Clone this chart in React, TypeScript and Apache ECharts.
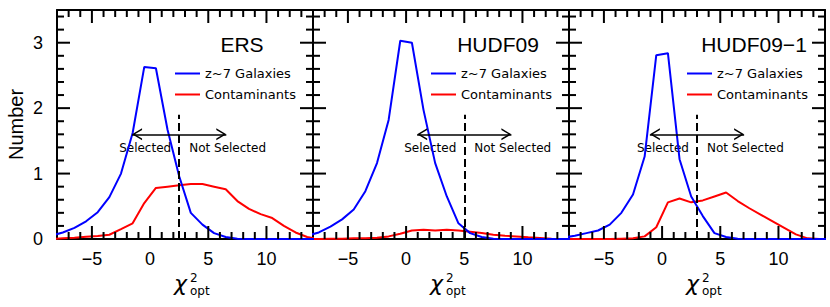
import React, { useEffect, useRef } from 'react';
import * as echarts from 'echarts';

const panelNames = ['ERS', 'HUDF09', 'HUDF09−1'];
const binCenters = [-8.5, -7.5, -6.5, -5.5, -4.5, -3.5, -2.5, -1.5, -0.5, 0.5, 1.5, 2.5, 3.5, 4.5, 5.5, 6.5, 7.5, 8.5, 9.5, 10.5, 11.5, 12.5, 13.5, 14.5];
const ersGalaxies = [0.05, 0.1, 0.17, 0.27, 0.41, 0.64, 1.0, 1.62, 2.63, 2.61, 1.67, 0.96, 0.4, 0.22, 0.09, 0.03, 0.005, 0, 0, 0, 0, 0, 0, 0];
const ersContaminants = [0, 0.01, 0.02, 0.035, 0.045, 0.065, 0.15, 0.24, 0.55, 0.78, 0.8, 0.82, 0.84, 0.84, 0.8, 0.76, 0.58, 0.46, 0.38, 0.32, 0.2, 0.1, 0.03, 0];
const hudfGalaxies = [0.05, 0.1, 0.19, 0.3, 0.45, 0.73, 1.16, 1.82, 3.03, 3.0, 1.97, 1.16, 0.65, 0.24, 0.09, 0.03, 0.005, 0, 0, 0, 0, 0, 0, 0];
const hudfContaminants = [0, 0, 0.005, 0.005, 0.01, 0.01, 0.02, 0.04, 0.08, 0.13, 0.14, 0.13, 0.14, 0.13, 0.11, 0.09, 0.065, 0.05, 0.04, 0.025, 0.015, 0.005, 0, 0];
const hudf1Galaxies = [0.02, 0.05, 0.09, 0.13, 0.22, 0.4, 0.68, 1.26, 2.81, 2.84, 1.22, 0.65, 0.35, 0.09, 0.03, 0.005, 0, 0, 0, 0, 0, 0, 0, 0];
const hudf1Contaminants = [0, 0, 0, 0, 0, 0.005, 0.01, 0.04, 0.18, 0.56, 0.62, 0.56, 0.59, 0.65, 0.71, 0.58, 0.47, 0.37, 0.27, 0.17, 0.07, 0.01, 0, 0];
const galaxySeries = [ersGalaxies, hudfGalaxies, hudf1Galaxies];
const contaminantSeries = [ersContaminants, hudfContaminants, hudf1Contaminants];
const selectionCuts = [2.5, 5, 3];
const cutTop = 1.9;
const arrowLevel = 1.6;
const arrowHalfLength = 4.05;
const xTickLabels = ['-8', '-7', '-6', '-5', '-4', '-3', '-2', '-1', '0', '1', '2', '3', '4', '5', '6', '7', '8', '9', '10', '11', '12', '13', '14'];
const xTickValues = [-7, -6, -5, -4, -3, -2, -1, 0, 1, 2, 3, 4, 5, 6, 7, 8, 9, 10, 11, 12, 13];
const yTickValues = [0.2, 0.4, 0.6, 0.8, 1, 1.2, 1.4, 1.6, 1.8, 2, 2.2, 2.4, 2.6, 2.8, 3, 3.2, 3.4];
const xMajorStep = 5;
const xMin = -8;
const xMax = 14;
const yMin = 0;
const yMax = 3.5;
const legendNames = ['z~7 Galaxies', 'Contaminants'];

const PANEL_LEFT = [57, 313, 569];
const PANEL_TOP = 10;
const PANEL_W = 256;
const PANEL_H = 229;
const BLACK = '#000';
const MAJOR_LEN = 13;
const MINOR_LEN = 7;
const TICK_W = 2;
const CHEVRON = 'path://M0,20 L6,10 L12,20 L10.3,20 L6,12.8 L1.7,20 Z M6,0 L6.02,0 L6,0.02 Z';

const isMajorX = (_i: number, v: string) => Number(v) % xMajorStep === 0;
const isMajorY = (v: number) => Math.abs(v - Math.round(v)) < 1e-6;
const fmtX = (v: string) => {
  const n = Number(v);
  return n < 0 ? '−' + Math.abs(n) : String(n);
};

function xAxes(g: number) {
  const cat = (position: string, labels: boolean) => ({
    gridIndex: g,
    type: 'category',
    data: xTickLabels,
    boundaryGap: false,
    position,
    splitLine: { show: false },
    axisLine: { show: true, onZero: false, lineStyle: { color: BLACK, width: 2 } },
    axisTick: { show: false },
    axisLabel: labels
      ? { show: true, interval: isMajorX, formatter: fmtX, fontSize: 18, color: BLACK, fontFamily: 'Liberation Sans', margin: 11 }
      : { show: false },
    silent: true,
  });
  const val = {
    gridIndex: g,
    type: 'value',
    min: xMin,
    max: xMax,
    position: 'bottom',
    splitLine: { show: false },
    axisLine: { show: false, onZero: false },
    axisTick: { show: false },
    axisLabel: { show: false },
  };
  return [val, cat('bottom', true), cat('top', false)];
}

function yAxes(g: number) {
  const mk = (position: string, labels: boolean) => ({
    gridIndex: g,
    type: 'value',
    min: yMin,
    max: yMax,
    interval: 1,
    position,
    splitLine: { show: false },
    axisLine: { show: true, onZero: false, lineStyle: { color: BLACK, width: 2 } },
    axisTick: { show: false },
    axisLabel: labels
      ? {
          show: true,
          formatter: (v: number) => (isMajorY(v) ? String(Math.round(v)) : ''),
          fontSize: 18,
          color: BLACK,
          fontFamily: 'Liberation Sans',
          margin: 14,
        }
      : { show: false },
    ...(labels
      ? {
          name: 'Number',
          nameLocation: 'middle',
          nameGap: 31,
          nameTextStyle: { fontSize: 20, color: BLACK, fontFamily: 'Liberation Sans' },
        }
      : {}),
  });
  return [mk('left', g === 0), mk('right', false)];
}

function pairs(vals: number[]) {
  return binCenters.map((x, i) => [x, vals[i]]);
}

function buildOption() {
  const grid = PANEL_LEFT.map((l) => ({ left: l, top: PANEL_TOP, width: PANEL_W, height: PANEL_H }));
  const xAxis: any[] = [];
  const yAxis: any[] = [];
  const series: any[] = [];
  for (let g = 0; g < 3; g++) {
    xAxis.push(...xAxes(g));
    yAxis.push(...yAxes(g));
    const xi = g * 3;
    const yi = g * 2;
    const cut = selectionCuts[g];
    series.push({
      name: legendNames[0],
      type: 'line',
      xAxisIndex: xi,
      yAxisIndex: yi,
      data: pairs(galaxySeries[g]),
      showSymbol: false,
      symbol: 'none',
      lineStyle: { color: '#0000ff', width: 2 },
      itemStyle: { color: '#0000ff' },
      z: 3,
      markLine: {
        silent: true,
        symbol: ['none', 'none'],
        label: { show: false },
        lineStyle: { color: BLACK, width: 2, type: [8, 4] },
        data: [[{ coord: [cut, 0] }, { coord: [cut, cutTop] }]],
      },
    });
    series.push({
      name: legendNames[1],
      type: 'line',
      xAxisIndex: xi,
      yAxisIndex: yi,
      data: pairs(contaminantSeries[g]),
      showSymbol: false,
      symbol: 'none',
      lineStyle: { color: '#ff0000', width: 2 },
      itemStyle: { color: '#ff0000' },
      z: 2,
      markLine: {
        silent: true,
        symbol: ['none', CHEVRON],
        symbolSize: [12, 20],
        label: { show: false },
        lineStyle: { color: BLACK, width: 1.6, type: 'solid' },
        data: [
          [{ coord: [cut, arrowLevel] }, { coord: [cut - arrowHalfLength, arrowLevel] }],
          [{ coord: [cut, arrowLevel] }, { coord: [cut + arrowHalfLength, arrowLevel] }],
        ],
      },
    });
  }
  const legend = PANEL_LEFT.map((l) => ({
    data: legendNames,
    orient: 'vertical',
    left: l + 118,
    top: 67,
    padding: 0,
    itemWidth: 25,
    itemHeight: 2,
    itemGap: 8,
    icon: 'rect',
    selectedMode: false,
    textStyle: { fontFamily: 'DejaVu Sans', fontSize: 13, color: BLACK },
  }));
  return {
    animation: false,
    backgroundColor: '#fff',
    grid,
    xAxis,
    yAxis,
    series,
    legend,
  };
}

export default function App() {
  const ref = useRef<HTMLDivElement>(null);
  useEffect(() => {
    if (!ref.current) return;
    const chart = echarts.init(ref.current, undefined, { renderer: 'svg' });
    chart.setOption(buildOption() as any);
    const graphic: any[] = [];
    const tickRect = (x: number, y: number, width: number, height: number) => ({
      type: 'rect',
      silent: true,
      z: 100,
      shape: { x, y, width, height },
      style: { fill: BLACK },
    });
    for (let g = 0; g < 3; g++) {
      const l = PANEL_LEFT[g];
      const finder = { xAxisIndex: g * 3, yAxisIndex: g * 2 } as any;
      const px = (x: number, y: number) => chart.convertToPixel(finder, [x, y]) as number[];
      for (const v of xTickValues) {
        const len = v % xMajorStep === 0 ? MAJOR_LEN : MINOR_LEN;
        const b = px(v, yMin);
        const t = px(v, yMax);
        graphic.push(tickRect(b[0] - TICK_W / 2, b[1] - len, TICK_W, len));
        graphic.push(tickRect(t[0] - TICK_W / 2, t[1], TICK_W, len));
      }
      for (const v of yTickValues) {
        const len = isMajorY(v) ? MAJOR_LEN : MINOR_LEN;
        const a = px(xMin, v);
        const c = px(xMax, v);
        graphic.push(tickRect(a[0], a[1] - TICK_W / 2, len, TICK_W));
        graphic.push(tickRect(c[0] - len, c[1] - TICK_W / 2, len, TICK_W));
      }
      graphic.push({
        type: 'text',
        x: l + 185,
        y: 44,
        style: { text: panelNames[g], fontSize: 21, fontFamily: 'Liberation Sans', fill: BLACK, align: 'center', verticalAlign: 'middle' },
      });
      graphic.push({
        type: 'text',
        x: l + 117,
        y: 283,
        style: { text: 'χ', fontSize: 22, fontStyle: 'italic', fontFamily: 'DejaVu Sans', fill: BLACK, align: 'left', verticalAlign: 'middle' },
      });
      graphic.push({
        type: 'text',
        x: l + 133,
        y: 278.4,
        style: { text: '2', fontSize: 12, fontFamily: 'DejaVu Sans', fill: BLACK, align: 'left', verticalAlign: 'middle' },
      });
      graphic.push({
        type: 'text',
        x: l + 133,
        y: 291.4,
        style: { text: 'opt', fontSize: 12, fontFamily: 'DejaVu Sans', fill: BLACK, align: 'left', verticalAlign: 'middle' },
      });
      const p = px(selectionCuts[g], arrowLevel);
      graphic.push({
        type: 'text',
        x: p[0] - 8,
        y: p[1] + 14,
        style: { text: 'Selected', fontSize: 12, fontFamily: 'DejaVu Sans', fill: BLACK, align: 'right', verticalAlign: 'middle' },
      });
      graphic.push({
        type: 'text',
        x: p[0] + 10,
        y: p[1] + 14,
        style: { text: 'Not Selected', fontSize: 12, fontFamily: 'DejaVu Sans', fill: BLACK, align: 'left', verticalAlign: 'middle' },
      });
    }
    chart.setOption({ graphic });
    return () => chart.dispose();
  }, []);
  return <div ref={ref} style={{ position: 'fixed', left: 0, top: 0, width: 830, height: 307 }} />;
}
